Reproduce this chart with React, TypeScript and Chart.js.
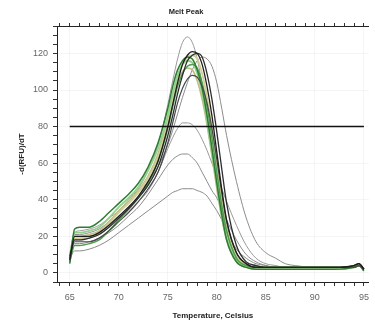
import React, { useEffect, useRef } from "react";
import { Chart, registerables } from "chart.js";

Chart.register(...registerables);

const temps = [65, 65.5, 66, 67, 68, 69, 70, 71, 72, 73, 74, 75, 75.5, 76, 76.5, 77, 77.5, 78, 78.5, 79, 79.5, 80, 80.5, 81, 82, 83, 84, 85, 86, 87, 88, 90, 92, 94, 94.5, 95];

const curveA = [10, 22, 23, 24, 26, 30, 34, 40, 46, 56, 70, 92, 105, 117, 126, 129, 126, 117, 103, 86, 68, 50, 34, 22, 9, 5, 4, 3, 3, 3, 3, 3, 3, 4, 5, 2];
const curveB = [7, 20, 20, 20, 22, 26, 31, 36, 42, 50, 61, 80, 92, 104, 114, 119, 121, 120, 114, 102, 86, 66, 46, 29, 11, 5, 3, 3, 3, 3, 3, 3, 3, 4, 5, 2];
const curveC = [9, 18, 18, 19, 21, 25, 30, 35, 41, 48, 58, 75, 86, 98, 108, 116, 119, 120, 118, 109, 95, 77, 57, 38, 15, 6, 4, 3, 3, 3, 3, 3, 3, 4, 5, 2];
const curveD = [8, 17, 17, 17, 19, 23, 28, 33, 39, 46, 55, 71, 82, 93, 101, 106, 108, 107, 102, 93, 79, 62, 44, 28, 11, 5, 3, 3, 3, 3, 3, 3, 3, 3, 4, 2];
const curveE = [5, 24, 25, 25, 28, 33, 38, 43, 49, 58, 71, 90, 102, 111, 116, 118, 117, 111, 101, 86, 68, 49, 32, 18, 6, 3, 2, 2, 2, 2, 2, 2, 2, 3, 4, 1];
const curveF = [9, 22, 22, 23, 25, 30, 36, 41, 47, 56, 68, 86, 98, 108, 114, 116, 115, 109, 98, 83, 66, 48, 31, 19, 7, 4, 3, 3, 3, 3, 3, 3, 3, 3, 4, 2];
const curveG = [8, 19, 19, 20, 22, 27, 33, 38, 44, 52, 63, 82, 95, 106, 114, 118, 119, 117, 109, 96, 79, 60, 41, 26, 9, 5, 3, 3, 3, 3, 3, 3, 3, 4, 5, 2];
const curveH = [6, 15, 15, 16, 18, 23, 29, 35, 41, 49, 61, 79, 91, 102, 109, 113, 114, 112, 104, 91, 74, 55, 37, 23, 8, 4, 3, 3, 3, 3, 3, 3, 3, 3, 4, 2];
const curveI = [9, 20, 20, 21, 23, 28, 34, 39, 45, 53, 65, 84, 96, 105, 110, 112, 111, 105, 95, 81, 64, 46, 30, 18, 6, 3, 2, 2, 2, 2, 2, 2, 2, 3, 4, 2];
const curveJ = [10, 21, 21, 22, 24, 28, 33, 38, 44, 50, 58, 70, 78, 87, 96, 104, 111, 116, 118, 117, 113, 104, 90, 75, 50, 30, 17, 11, 8, 5, 4, 3, 3, 4, 5, 2];
const curveK = [9, 18, 18, 19, 21, 25, 29, 34, 39, 45, 55, 68, 74, 79, 82, 82, 81, 78, 73, 67, 60, 53, 46, 39, 26, 15, 8, 5, 4, 3, 3, 3, 3, 3, 4, 2];
const curveL = [8, 16, 16, 17, 19, 22, 26, 31, 36, 43, 51, 59, 62, 64, 65, 65, 63, 60, 55, 50, 45, 41, 35, 29, 18, 10, 6, 4, 3, 3, 3, 3, 3, 3, 4, 2];
const curveM = [8, 12, 12, 13, 15, 18, 22, 26, 30, 34, 38, 42, 44, 45, 46, 46, 46, 45, 44, 42, 38, 34, 29, 23, 13, 8, 5, 4, 3, 3, 3, 3, 3, 3, 4, 2];

const thresholdTemps = [65, 95];
const thresholdValue = 80;

const xTickLabels = [65, 70, 75, 80, 85, 90, 95];
const yTickLabels = [0, 20, 40, 60, 80, 100, 120];

// drawn in this order from top (first) to bottom (last)
const series = [
  { values: curveB, color: "#1e1e1e", width: 1.3 },
  { values: curveC, color: "#2e2e2e", width: 1.3 },
  { values: curveD, color: "#4a4a4a", width: 1.2 },
  { values: curveE, color: "#2f7d32", width: 1.5 },
  { values: curveH, color: "#4f9e4f", width: 1.5 },
  { values: curveF, color: "#93d18e", width: 1.8 },
  { values: curveG, color: "#d3cf97", width: 1.8 },
  { values: curveI, color: "#c2bd83", width: 1.6 },
  { values: curveA, color: "#9a9a9a", width: 1 },
  { values: curveJ, color: "#8c8c8c", width: 1 },
  { values: curveK, color: "#999999", width: 1 },
  { values: curveL, color: "#8a8a8a", width: 1 },
  { values: curveM, color: "#8a8a8a", width: 1 },
];

export default function App() {
  const ref = useRef<HTMLCanvasElement | null>(null);

  useEffect(() => {
    if (!ref.current) return;
    const datasets: any[] = [
      {
        label: "Threshold",
        data: thresholdTemps.map((t) => ({ x: t, y: thresholdValue })),
        borderColor: "#111",
        borderWidth: 1.5,
        pointRadius: 0,
        fill: false,
      },
      ...series.map((s, i) => ({
        label: "Well " + (i + 1),
        data: temps.map((t, j) => ({ x: t, y: s.values[j] })),
        borderColor: s.color,
        borderWidth: s.width,
        pointRadius: 0,
        fill: false,
        cubicInterpolationMode: "monotone",
      })),
    ];

    const font = "'Liberation Sans', Arial, sans-serif";

    const chart = new Chart(ref.current, {
      type: "line",
      data: { datasets },
      options: {
        animation: false,
        responsive: false,
        maintainAspectRatio: false,
        layout: { padding: { left: 0, right: 3, top: 0, bottom: 0 } },
        plugins: {
          legend: { display: false },
          tooltip: { enabled: false },
          title: {
            display: true,
            text: "Melt Peak",
            color: "#222",
            font: { family: font, size: 7.5, weight: "bold" },
            padding: { top: 7, bottom: 0 },
          },
        },
        scales: {
          x: {
            type: "linear",
            position: "bottom",
            min: 63.7,
            max: 95.5,
            afterFit: (s: any) => {
              s.height = 44;
            },
            border: { color: "#222", width: 1 },
            grid: {
              drawOnChartArea: true,
              tickLength: 4,
              tickColor: "#333",
              color: (c: any) =>
                c.tick && xTickLabels.includes(c.tick.value) ? "rgba(0,0,0,0.04)" : "rgba(0,0,0,0)",
            },
            ticks: {
              stepSize: 1,
              includeBounds: false,
              autoSkip: false,
              maxRotation: 0,
              padding: 6,
              color: "#666",
              font: { family: font, size: 9 },
              callback: (v: any) => (xTickLabels.includes(Number(v)) ? String(v) : ""),
            },
            title: {
              display: true,
              text: "Temperature, Celsius",
              color: "#222",
              font: { family: font, size: 8, weight: "bold" },
              padding: { top: 0, bottom: 5 },
            },
          },
          x2: {
            type: "linear",
            position: "top",
            min: 63.7,
            max: 95.5,
            afterFit: (s: any) => {
              s.height = 10;
            },
            border: { color: "#222", width: 1 },
            grid: { drawOnChartArea: false, tickLength: 3, tickColor: "#333" },
            ticks: {
              stepSize: 1,
              includeBounds: false,
              autoSkip: false,
              padding: 0,
              font: { size: 1 },
              callback: () => "",
            },
          },
          y: {
            type: "linear",
            min: -5,
            max: 135,
            afterFit: (s: any) => {
              s.width = 57;
            },
            border: { color: "#222", width: 1 },
            grid: {
              tickLength: 4,
              tickColor: "#333",
              color: (c: any) =>
                c.tick && yTickLabels.includes(c.tick.value) ? "rgba(0,0,0,0.04)" : "rgba(0,0,0,0)",
            },
            ticks: {
              stepSize: 5,
              includeBounds: false,
              autoSkip: false,
              padding: 5,
              color: "#666",
              font: { family: font, size: 9 },
              callback: (v: any) => (yTickLabels.includes(Number(v)) ? String(v) : ""),
            },
            title: {
              display: true,
              text: "-d(RFU)/dT",
              color: "#222",
              font: { family: font, size: 8, weight: "bold" },
              padding: { top: 17, bottom: 0 },
            },
          },
        },
      } as any,
    });
    return () => chart.destroy();
  }, []);

  return (
    <div style={{ position: "absolute", left: 0, top: 0, width: 375, height: 326, background: "#fff" }}>
      <canvas ref={ref} width={375} height={326} />
    </div>
  );
}
